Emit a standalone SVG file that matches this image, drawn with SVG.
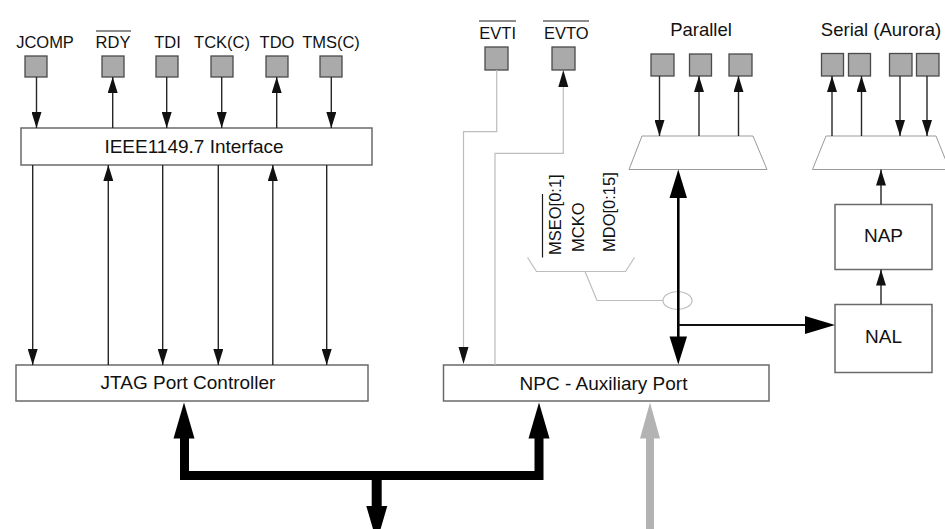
<svg xmlns="http://www.w3.org/2000/svg" width="945" height="529" viewBox="0 0 945 529">
<defs>
<style>
.lbl{font-family:"Liberation Sans",Arial,sans-serif;font-size:16.5px;fill:#111}
.ttl{font-family:"Liberation Sans",Arial,sans-serif;font-size:18.5px;fill:#111}
.box{fill:#fff;stroke:#6a6a6a;stroke-width:1.5}
.btx{font-family:"Liberation Sans",Arial,sans-serif;font-size:19px;fill:#111;text-anchor:middle}
.pad{fill:#aaaaaa;stroke:#4a4a4a;stroke-width:1.3}
.trap{fill:#fff;stroke:#9a9a9a;stroke-width:1}
.ln{fill:none;stroke:#262626;stroke-width:1.4}
.gl{fill:none;stroke:#bdbdbd;stroke-width:1.2}
.ov{stroke:#1a1a1a;stroke-width:1.2}
</style>
<marker id="ah" markerUnits="userSpaceOnUse" viewBox="0 0 16 10" markerWidth="16" markerHeight="10" refX="16" refY="5" orient="auto">
<path d="M0,0 L16,5 L0,10 z" fill="#111"/>
</marker>
</defs>
<rect width="945" height="529" fill="#fff"/>

<!-- top pads left -->
<g id="pad-jcomp"><text class="lbl" x="45" y="48" text-anchor="middle">JCOMP</text><rect class="pad" x="25" y="56" width="22" height="21"/></g>
<g id="pad-rdy"><text class="lbl" x="113" y="48" text-anchor="middle">RDY</text><line class="ov" x1="96" y1="31" x2="131" y2="31"/><rect class="pad" x="102" y="56" width="22" height="21"/></g>
<g id="pad-tdi"><text class="lbl" x="167.5" y="48" text-anchor="middle">TDI</text><rect class="pad" x="156" y="56" width="22" height="21"/></g>
<g id="pad-tck"><text class="lbl" x="222" y="48" text-anchor="middle">TCK(C)</text><rect class="pad" x="211" y="56" width="22" height="21"/></g>
<g id="pad-tdo"><text class="lbl" x="277" y="48" text-anchor="middle">TDO</text><rect class="pad" x="266" y="56" width="22" height="21"/></g>
<g id="pad-tms"><text class="lbl" x="331" y="48" text-anchor="middle">TMS(C)</text><rect class="pad" x="320" y="56" width="22" height="21"/></g>

<g id="ieee"><rect class="box" x="21" y="128" width="351" height="37"/><text class="btx" x="194" y="153">IEEE1149.7 Interface</text></g>
<g id="jtag"><rect class="box" x="16" y="365" width="352" height="36"/><text class="btx" x="188" y="389">JTAG Port Controller</text></g>

<!-- EVTI / EVTO -->
<g id="pad-evti"><text class="lbl" x="497.7" y="39" text-anchor="middle">EVTI</text><line class="ov" x1="479" y1="21" x2="516" y2="21"/><rect class="pad" x="485" y="47" width="23" height="23"/></g>
<g id="pad-evto"><text class="lbl" x="566.3" y="39" text-anchor="middle">EVTO</text><line class="ov" x1="543" y1="21" x2="589" y2="21"/><rect class="pad" x="552" y="47" width="23" height="23"/></g>

<!-- Parallel -->
<g id="parallel">
<text class="ttl" x="701" y="35.5" text-anchor="middle">Parallel</text>
<rect class="pad" x="651" y="54" width="23" height="22"/>
<rect class="pad" x="689.5" y="54" width="22" height="22"/>
<rect class="pad" x="729" y="54" width="23" height="22"/>
<polygon class="trap" points="642,136 753,136 767,169.5 629,169.5"/>
</g>

<!-- Serial -->
<g id="serial">
<text class="ttl" x="881" y="35.5" text-anchor="middle">Serial (Aurora)</text>
<rect class="pad" x="821.5" y="53.5" width="22" height="22.5"/>
<rect class="pad" x="848.5" y="53.5" width="22" height="22.5"/>
<rect class="pad" x="889.5" y="53.5" width="22.5" height="22.5"/>
<rect class="pad" x="916.5" y="53.5" width="22.5" height="22.5"/>
<polygon class="trap" points="826,136 936,136 949.5,169.5 812.5,169.5"/>
</g>

<g id="nap"><rect class="box" x="835" y="204.5" width="97" height="65"/><text class="btx" x="883.5" y="242">NAP</text></g>
<g id="nal"><rect class="box" x="835" y="304.5" width="97" height="68"/><text class="btx" x="883.5" y="343">NAL</text></g>
<g id="npc"><rect class="box" x="443.5" y="365" width="325.5" height="36"/><text class="btx" x="603.5" y="389.5">NPC - Auxiliary Port</text></g>

<!-- signal bundle labels -->
<g id="bundle">
<text class="lbl" transform="translate(561,255) rotate(-90)">MSEO[0:1]</text>
<line class="ov" x1="542.5" y1="194" x2="542.5" y2="257.5"/>
<text class="lbl" transform="translate(583.5,252) rotate(-90)">MCKO</text>
<text class="lbl" transform="translate(614.5,252) rotate(-90)">MDO[0:15]</text>
<polyline class="gl" points="527.5,257.5 536.5,271.5 625.5,271.5 634.5,257.5"/>
<polyline class="gl" points="585,271.5 597,300.5 663,300.5"/>
<ellipse class="gl" cx="677.5" cy="300.5" rx="14.5" ry="9"/>
</g>

<g id="connectors">
<!-- pads to IEEE -->
<line class="ln" x1="36.5" y1="77" x2="36.5" y2="128" marker-end="url(#ah)"/>
<line class="ln" x1="112.7" y1="128" x2="112.7" y2="77" marker-end="url(#ah)"/>
<line class="ln" x1="166.7" y1="77" x2="166.7" y2="128" marker-end="url(#ah)"/>
<line class="ln" x1="221.7" y1="77" x2="221.7" y2="128" marker-end="url(#ah)"/>
<line class="ln" x1="276.7" y1="128" x2="276.7" y2="77" marker-end="url(#ah)"/>
<line class="ln" x1="331.3" y1="77" x2="331.3" y2="128" marker-end="url(#ah)"/>
<!-- IEEE to JTAG -->
<line class="ln" x1="32.7" y1="165" x2="32.7" y2="365" marker-end="url(#ah)"/>
<line class="ln" x1="108.3" y1="365" x2="108.3" y2="165" marker-end="url(#ah)"/>
<line class="ln" x1="162.7" y1="165" x2="162.7" y2="365" marker-end="url(#ah)"/>
<line class="ln" x1="218.3" y1="165" x2="218.3" y2="365" marker-end="url(#ah)"/>
<line class="ln" x1="272.8" y1="365" x2="272.8" y2="165" marker-end="url(#ah)"/>
<line class="ln" x1="326.7" y1="165" x2="326.7" y2="365" marker-end="url(#ah)"/>
<!-- EVTI / EVTO -->
<polyline class="gl" points="496.7,70 496.7,131.7 463.5,131.7 463.5,350"/>
<polygon points="458.5,347 468.5,347 463.5,364" fill="#111"/>
<polyline class="gl" points="495,365 495,153.3 563.3,153.3 563.3,86"/>
<polygon points="558.3,87 568.3,87 563.3,70" fill="#111"/>
<!-- Parallel pads -->
<line class="ln" x1="659.5" y1="76" x2="659.5" y2="136" marker-end="url(#ah)"/>
<line class="ln" x1="699" y1="136" x2="699" y2="76" marker-end="url(#ah)"/>
<line class="ln" x1="738.5" y1="136" x2="738.5" y2="76" marker-end="url(#ah)"/>
<!-- Serial pads -->
<line class="ln" x1="832" y1="136" x2="832" y2="76" marker-end="url(#ah)"/>
<line class="ln" x1="861.5" y1="136" x2="861.5" y2="76" marker-end="url(#ah)"/>
<line class="ln" x1="900" y1="76" x2="900" y2="136" marker-end="url(#ah)"/>
<line class="ln" x1="927" y1="76" x2="927" y2="136" marker-end="url(#ah)"/>
<!-- NAL/NAP -->
<line class="ln" x1="881" y1="304.5" x2="881" y2="269.5" marker-end="url(#ah)"/>
<line class="ln" x1="881" y1="204.5" x2="881" y2="169.5" marker-end="url(#ah)"/>
<!-- Parallel <-> NPC thick double arrow -->
<line x1="678.3" y1="195" x2="678.3" y2="338" stroke="#000" stroke-width="2.6"/>
<polygon points="678.3,169.5 669.5,198 687,198" fill="#000"/>
<polygon points="678.3,364.5 669.5,336.5 687,336.5" fill="#000"/>
<line x1="678.3" y1="325" x2="807" y2="325" stroke="#111" stroke-width="1.8"/>
<polygon points="835,325 805,316 805,334" fill="#000"/>
<!-- system bus -->
<polyline points="184.5,436 184.5,475.5 539,475.5 539,436" fill="none" stroke="#000" stroke-width="9" stroke-linejoin="miter"/>
<polygon points="184,402.5 173.5,438.5 194.5,438.5" fill="#000"/>
<polygon points="539,402.5 528.5,438.5 549.5,438.5" fill="#000"/>
<line x1="376.7" y1="475" x2="376.7" y2="508" stroke="#000" stroke-width="10"/>
<polygon points="366.3,506 387.3,506 376.8,542" fill="#000"/>
<!-- gray arrow -->
<line x1="650" y1="436" x2="650" y2="529" stroke="#b3b3b3" stroke-width="8"/>
<polygon points="650,402.5 640,438.5 660,438.5" fill="#b3b3b3"/>
</g>
</svg>
